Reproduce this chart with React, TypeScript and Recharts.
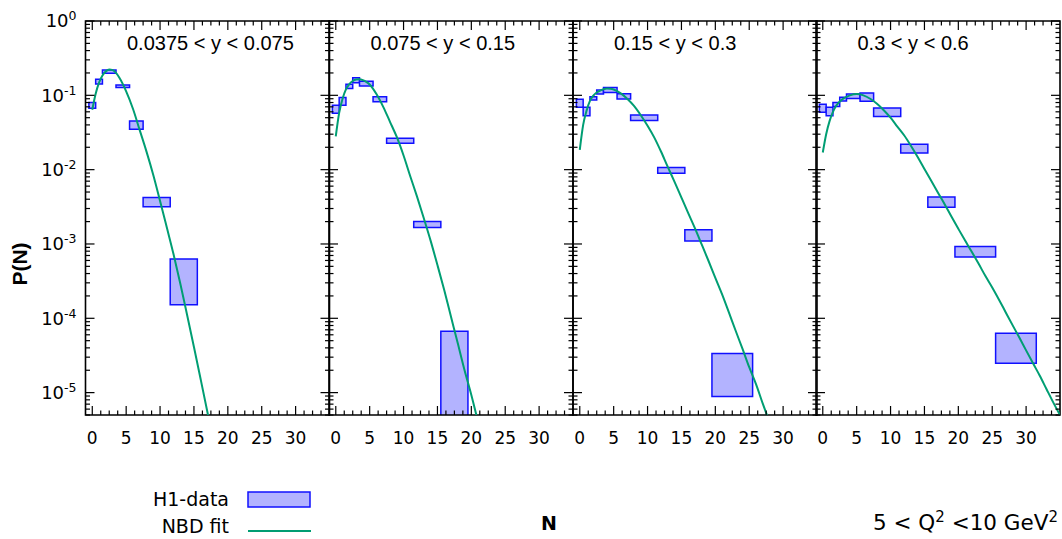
import React from 'react';
import { ComposedChart, Line, XAxis, YAxis, ReferenceArea } from 'recharts';

type Box = { n1: number; n2: number; lo: number; hi: number };
type Pt = { n: number; p: number };

// ---------- text / ticks ----------
const panelTitles = ['0.0375 < y < 0.075', '0.075 < y < 0.15', '0.15 < y < 0.3', '0.3 < y < 0.6'];
const xMajorTicks = [0, 5, 10, 15, 20, 25, 30];
const yMajorTicks = [1, 1e-1, 1e-2, 1e-3, 1e-4, 1e-5];
const yMajorExps = ['0', '-1', '-2', '-3', '-4', '-5'];
const X_DOMAIN: [number, number] = [-1, 35];
const Y_DOMAIN: [number, number] = [5e-6, 1];

// ---------- H1 data boxes (N bin edges, P(N) lower/upper) ----------
const boxes1: Box[] = [
  { n1: -0.5, n2: 0.5, lo: 0.067, hi: 0.08 },
  { n1: 0.5, n2: 1.5, lo: 0.142, hi: 0.164 },
  { n1: 1.5, n2: 3.5, lo: 0.198, hi: 0.219 },
  { n1: 3.5, n2: 5.5, lo: 0.127, hi: 0.138 },
  { n1: 5.5, n2: 7.5, lo: 0.035, hi: 0.045 },
  { n1: 7.5, n2: 11.5, lo: 0.00316, hi: 0.00422 },
  { n1: 11.5, n2: 15.5, lo: 1.52e-4, hi: 6.27e-4 },
];
const boxes2: Box[] = [
  { n1: -0.5, n2: 0.5, lo: 0.0574, hi: 0.0736 },
  { n1: 0.5, n2: 1.5, lo: 0.0736, hi: 0.0932 },
  { n1: 1.5, n2: 2.5, lo: 0.124, hi: 0.141 },
  { n1: 2.5, n2: 3.5, lo: 0.148, hi: 0.173 },
  { n1: 3.5, n2: 5.5, lo: 0.134, hi: 0.155 },
  { n1: 5.5, n2: 7.5, lo: 0.082, hi: 0.096 },
  { n1: 7.5, n2: 11.5, lo: 0.0227, hi: 0.0265 },
  { n1: 11.5, n2: 15.5, lo: 0.00167, hi: 0.00201 },
  { n1: 15.5, n2: 19.5, lo: 1e-6, hi: 6.67e-5 },
];
const boxes3: Box[] = [
  { n1: -0.5, n2: 0.5, lo: 0.0692, hi: 0.0887 },
  { n1: 0.5, n2: 1.5, lo: 0.0533, hi: 0.0692 },
  { n1: 1.5, n2: 2.5, lo: 0.0867, hi: 0.096 },
  { n1: 2.5, n2: 3.5, lo: 0.104, hi: 0.118 },
  { n1: 3.5, n2: 5.5, lo: 0.109, hi: 0.127 },
  { n1: 5.5, n2: 7.5, lo: 0.0895, hi: 0.105 },
  { n1: 7.5, n2: 11.5, lo: 0.0457, hi: 0.0545 },
  { n1: 11.5, n2: 15.5, lo: 0.00897, hi: 0.01067 },
  { n1: 15.5, n2: 19.5, lo: 0.0011, hi: 0.00155 },
  { n1: 19.5, n2: 25.5, lo: 8.9e-6, hi: 3.37e-5 },
];
const boxes4: Box[] = [
  { n1: -0.5, n2: 0.5, lo: 0.0593, hi: 0.0759 },
  { n1: 0.5, n2: 1.5, lo: 0.0533, hi: 0.0692 },
  { n1: 1.5, n2: 2.5, lo: 0.0705, hi: 0.0798 },
  { n1: 2.5, n2: 3.5, lo: 0.0841, hi: 0.0942 },
  { n1: 3.5, n2: 5.5, lo: 0.0903, hi: 0.1045 },
  { n1: 5.5, n2: 7.5, lo: 0.0833, hi: 0.1077 },
  { n1: 7.5, n2: 11.5, lo: 0.0518, hi: 0.0677 },
  { n1: 11.5, n2: 15.5, lo: 0.0167, hi: 0.022 },
  { n1: 15.5, n2: 19.5, lo: 0.00313, hi: 0.00427 },
  { n1: 19.5, n2: 25.5, lo: 6.67e-4, hi: 9.25e-4 },
  { n1: 25.5, n2: 31.5, lo: 2.48e-5, hi: 6.27e-5 },
];

// ---------- NBD fit curves ----------
const fit1: Pt[] = [
  { n: 0, p: 0.064 }, { n: 0.5, p: 0.105 }, { n: 1, p: 0.148 }, { n: 1.5, p: 0.185 },
  { n: 2, p: 0.21 }, { n: 2.5, p: 0.222 }, { n: 3, p: 0.218 }, { n: 3.5, p: 0.2 },
  { n: 4, p: 0.172 }, { n: 5, p: 0.113 }, { n: 6, p: 0.066 }, { n: 7, p: 0.034 },
  { n: 8, p: 0.0175 }, { n: 9, p: 0.0085 }, { n: 10, p: 0.0038 }, { n: 11, p: 0.00166 },
  { n: 12, p: 7.2e-4 }, { n: 13, p: 2.9e-4 }, { n: 14, p: 1.1e-4 }, { n: 15, p: 4.1e-5 },
  { n: 16, p: 1.5e-5 }, { n: 17, p: 5.4e-6 }, { n: 17.5, p: 3.2e-6 },
];
const fit2: Pt[] = [
  { n: 0, p: 0.028 }, { n: 0.5, p: 0.058 }, { n: 1, p: 0.09 }, { n: 1.5, p: 0.12 },
  { n: 2, p: 0.142 }, { n: 2.5, p: 0.156 }, { n: 3, p: 0.163 }, { n: 3.5, p: 0.164 },
  { n: 4, p: 0.16 }, { n: 4.5, p: 0.152 }, { n: 5, p: 0.14 }, { n: 6, p: 0.104 },
  { n: 7, p: 0.07 }, { n: 8, p: 0.044 }, { n: 9, p: 0.0275 }, { n: 10, p: 0.0155 },
  { n: 11, p: 0.0081 }, { n: 12, p: 0.0043 }, { n: 13, p: 0.0022 }, { n: 14, p: 0.0011 },
  { n: 15, p: 5.2e-4 }, { n: 16, p: 2.4e-4 }, { n: 17, p: 1.05e-4 }, { n: 18, p: 4.6e-5 },
  { n: 19, p: 2.0e-5 }, { n: 20, p: 9.3e-6 }, { n: 21, p: 4.0e-6 },
];
const fit3: Pt[] = [
  { n: 0, p: 0.0185 }, { n: 0.5, p: 0.04 }, { n: 1, p: 0.062 }, { n: 1.5, p: 0.084 },
  { n: 2, p: 0.099 }, { n: 2.5, p: 0.109 }, { n: 3, p: 0.116 }, { n: 3.5, p: 0.121 },
  { n: 4, p: 0.124 }, { n: 4.5, p: 0.123 }, { n: 5, p: 0.12 }, { n: 6, p: 0.107 },
  { n: 7, p: 0.09 }, { n: 8, p: 0.072 }, { n: 9, p: 0.054 }, { n: 10, p: 0.039 },
  { n: 11, p: 0.027 }, { n: 12, p: 0.0174 }, { n: 13, p: 0.0108 }, { n: 14, p: 0.0068 },
  { n: 15, p: 0.0042 }, { n: 16, p: 0.0026 }, { n: 17, p: 0.00162 }, { n: 18, p: 9.8e-4 },
  { n: 19, p: 5.9e-4 }, { n: 20, p: 3.5e-4 }, { n: 21, p: 2.1e-4 }, { n: 22, p: 1.2e-4 },
  { n: 23, p: 6.8e-5 }, { n: 24, p: 3.9e-5 }, { n: 25, p: 2.2e-5 }, { n: 26, p: 1.3e-5 },
  { n: 27, p: 7.1e-6 }, { n: 28, p: 4.0e-6 },
];
const fit4: Pt[] = [
  { n: 0, p: 0.017 }, { n: 0.5, p: 0.03 }, { n: 1, p: 0.045 }, { n: 1.5, p: 0.06 },
  { n: 2, p: 0.073 }, { n: 3, p: 0.09 }, { n: 4, p: 0.1 }, { n: 5, p: 0.104 },
  { n: 6, p: 0.1 }, { n: 7, p: 0.09 }, { n: 8, p: 0.077 }, { n: 9, p: 0.063 },
  { n: 10, p: 0.05 }, { n: 11, p: 0.038 }, { n: 12, p: 0.029 }, { n: 13, p: 0.021 },
  { n: 14, p: 0.0148 }, { n: 15, p: 0.0102 }, { n: 16, p: 0.0071 }, { n: 17, p: 0.0049 },
  { n: 18, p: 0.0034 }, { n: 19, p: 0.00232 }, { n: 20, p: 0.0016 }, { n: 21, p: 0.00111 },
  { n: 22, p: 7.8e-4 }, { n: 23, p: 5.4e-4 }, { n: 24, p: 3.7e-4 }, { n: 25, p: 2.6e-4 },
  { n: 26, p: 1.78e-4 }, { n: 27, p: 1.2e-4 }, { n: 28, p: 8.1e-5 }, { n: 29, p: 5.5e-5 },
  { n: 30, p: 3.7e-5 }, { n: 31, p: 2.5e-5 }, { n: 32, p: 1.7e-5 }, { n: 33, p: 1.12e-5 },
  { n: 34, p: 7.4e-6 }, { n: 35, p: 5.0e-6 },
];

const panelBoxes = [boxes1, boxes2, boxes3, boxes4];
const panelFits = [fit1, fit2, fit3, fit4];

// minor ticks
const xMinorTicks: number[] = [];
for (let v = 1.25; v < 35; v += 1.25) if (v % 5 !== 0) xMinorTicks.push(v);
const yMinorTicks: number[] = [];
for (let e = -6; e <= -1; e++) {
  for (let m = 2; m <= 9; m++) {
    const v = m * Math.pow(10, e);
    if (v >= 4.99e-6 && v < 1) yMinorTicks.push(v);
  }
}

// ---------- layout ----------
const PLOT_TOP = 21;
const PLOT_H = 394;
const PLOT_W = 244;
const CHART_H = 460;
const panelLefts = [85.5, 329, 572.5, 816];

const BOX_FILL = '#b3b3ff';
const BOX_STROKE = '#1010ff';
const FIT_COLOR = '#009e73';
const TICK_FONT = 'DejaVu Sans, sans-serif';

const makeXTick = () => (props: any) => {
  const { x, y, payload } = props;
  const v = payload.value;
  const major = xMajorTicks.includes(v);
  const len = major ? 9 : 4.5;
  return (
    <g>
      <line x1={x} y1={y} x2={x} y2={y - len} stroke="#000" strokeWidth={1.2} />
      <line x1={x} y1={y - PLOT_H} x2={x} y2={y - PLOT_H + len} stroke="#000" strokeWidth={1.2} />
      {major && (
        <text x={x} y={y + 29} textAnchor="middle" fontSize={17} fontFamily={TICK_FONT} fill="#000">
          {v}
        </text>
      )}
    </g>
  );
};

const makeYTick = (showLabels: boolean) => (props: any) => {
  const { x, y, payload } = props;
  const v = payload.value;
  const idx = yMajorTicks.findIndex((m) => Math.abs(m - v) / m < 1e-6);
  const major = idx >= 0;
  const len = major ? 9 : 4.5;
  return (
    <g>
      <line x1={x} y1={y} x2={x + len} y2={y} stroke="#000" strokeWidth={1.2} />
      <line x1={x + PLOT_W} y1={y} x2={x + PLOT_W - len} y2={y} stroke="#000" strokeWidth={1.2} />
      {showLabels && major && (
        <text x={x - 9} y={y + 6.3} textAnchor="end" fontSize={18} fontFamily={TICK_FONT} fill="#000">
          10
          <tspan dy={-7} fontSize={12.5}>
            {yMajorExps[idx]}
          </tspan>
        </text>
      )}
    </g>
  );
};

function Panel({ i }: { i: number }) {
  const first = i === 0;
  const ml = first ? 85.5 : 6;
  const mr = i === 3 ? 2 : 6;
  const yAxisW = first ? 80 : 1;
  return (
    <div style={{ position: 'absolute', left: panelLefts[i] - ml, top: 0 }}>
      <ComposedChart
        width={PLOT_W + ml + mr}
        height={CHART_H}
        data={panelFits[i]}
        margin={{ top: PLOT_TOP, right: mr, bottom: CHART_H - PLOT_TOP - PLOT_H - 30, left: ml - yAxisW }}
      >
        <XAxis
          dataKey="n"
          type="number"
          domain={X_DOMAIN}
          allowDataOverflow
          ticks={[...xMajorTicks, ...xMinorTicks]}
          interval={0}
          axisLine={false}
          tickLine={false}
          tickSize={0}
          tickMargin={0}
          height={30}
          tick={makeXTick()}
        />
        <YAxis
          dataKey="p"
          type="number"
          scale="log"
          domain={Y_DOMAIN}
          allowDataOverflow
          ticks={[...yMajorTicks, ...yMinorTicks]}
          interval={0}
          axisLine={false}
          tickLine={false}
          tickSize={0}
          tickMargin={0}
          width={yAxisW}
          tick={makeYTick(first)}
        />
        {panelBoxes[i].map((b, k) => (
          <ReferenceArea
            key={k}
            x1={b.n1}
            x2={b.n2}
            y1={b.lo}
            y2={b.hi}
            fill={BOX_FILL}
            fillOpacity={1}
            stroke={BOX_STROKE}
            strokeWidth={1.5}
            ifOverflow="hidden"
          />
        ))}
        <Line
          dataKey="p"
          type="monotone"
          stroke={FIT_COLOR}
          strokeWidth={2}
          dot={false}
          activeDot={false}
          isAnimationActive={false}
        />
        <ReferenceArea
          x1={X_DOMAIN[0]}
          x2={X_DOMAIN[1]}
          y1={Y_DOMAIN[0]}
          y2={Y_DOMAIN[1]}
          fill="none"
          fillOpacity={0}
          stroke="#000"
          strokeWidth={1.6}
          ifOverflow="visible"
        />
      </ComposedChart>
    </div>
  );
}

export default function App() {
  const sans = 'DejaVu Sans, sans-serif';
  const arial = 'Liberation Sans, Arial, sans-serif';
  return (
    <div style={{ position: 'absolute', left: 0, top: 0, width: 1062, height: 539, background: '#fff', overflow: 'hidden' }}>
      {[0, 1, 2, 3].map((i) => (
        <Panel key={i} i={i} />
      ))}
      <svg width={1062} height={539} style={{ position: 'absolute', left: 0, top: 0, pointerEvents: 'none' }}>
        {panelTitles.map((t, i) => (
          <text key={i} x={panelLefts[i] + 41.5} y={50} fontSize={20} fontFamily={arial} fill="#000">
            {t}
          </text>
        ))}
        <text
          x={0}
          y={0}
          transform="translate(27 264) rotate(-90)"
          textAnchor="middle"
          fontSize={21}
          fontWeight="bold"
          fontFamily={arial}
          fill="#000"
        >
          P(N)
        </text>
        <text x={229} y={506} textAnchor="end" fontSize={19} fontFamily={sans} fill="#000">
          H1-data
        </text>
        <rect x={248} y={492} width={62} height={15} fill={BOX_FILL} stroke={BOX_STROKE} strokeWidth={1.5} />
        <text x={229} y={533} textAnchor="end" fontSize={19} fontFamily={sans} fill="#000">
          NBD fit
        </text>
        <line x1={248} y1={531} x2={311} y2={531} stroke={FIT_COLOR} strokeWidth={2} />
        <text x={549} y={530} textAnchor="middle" fontSize={19} fontWeight="bold" fontFamily={sans} fill="#000">
          N
        </text>
        <text x={1058} y={530} textAnchor="end" fontSize={21.5} fontFamily={sans} fill="#000">
          5 &lt; Q
          <tspan dy={-8} fontSize={15}>2</tspan>
          <tspan dy={8}> &lt;10 GeV</tspan>
          <tspan dy={-8} fontSize={15}>2</tspan>
        </text>
      </svg>
    </div>
  );
}
